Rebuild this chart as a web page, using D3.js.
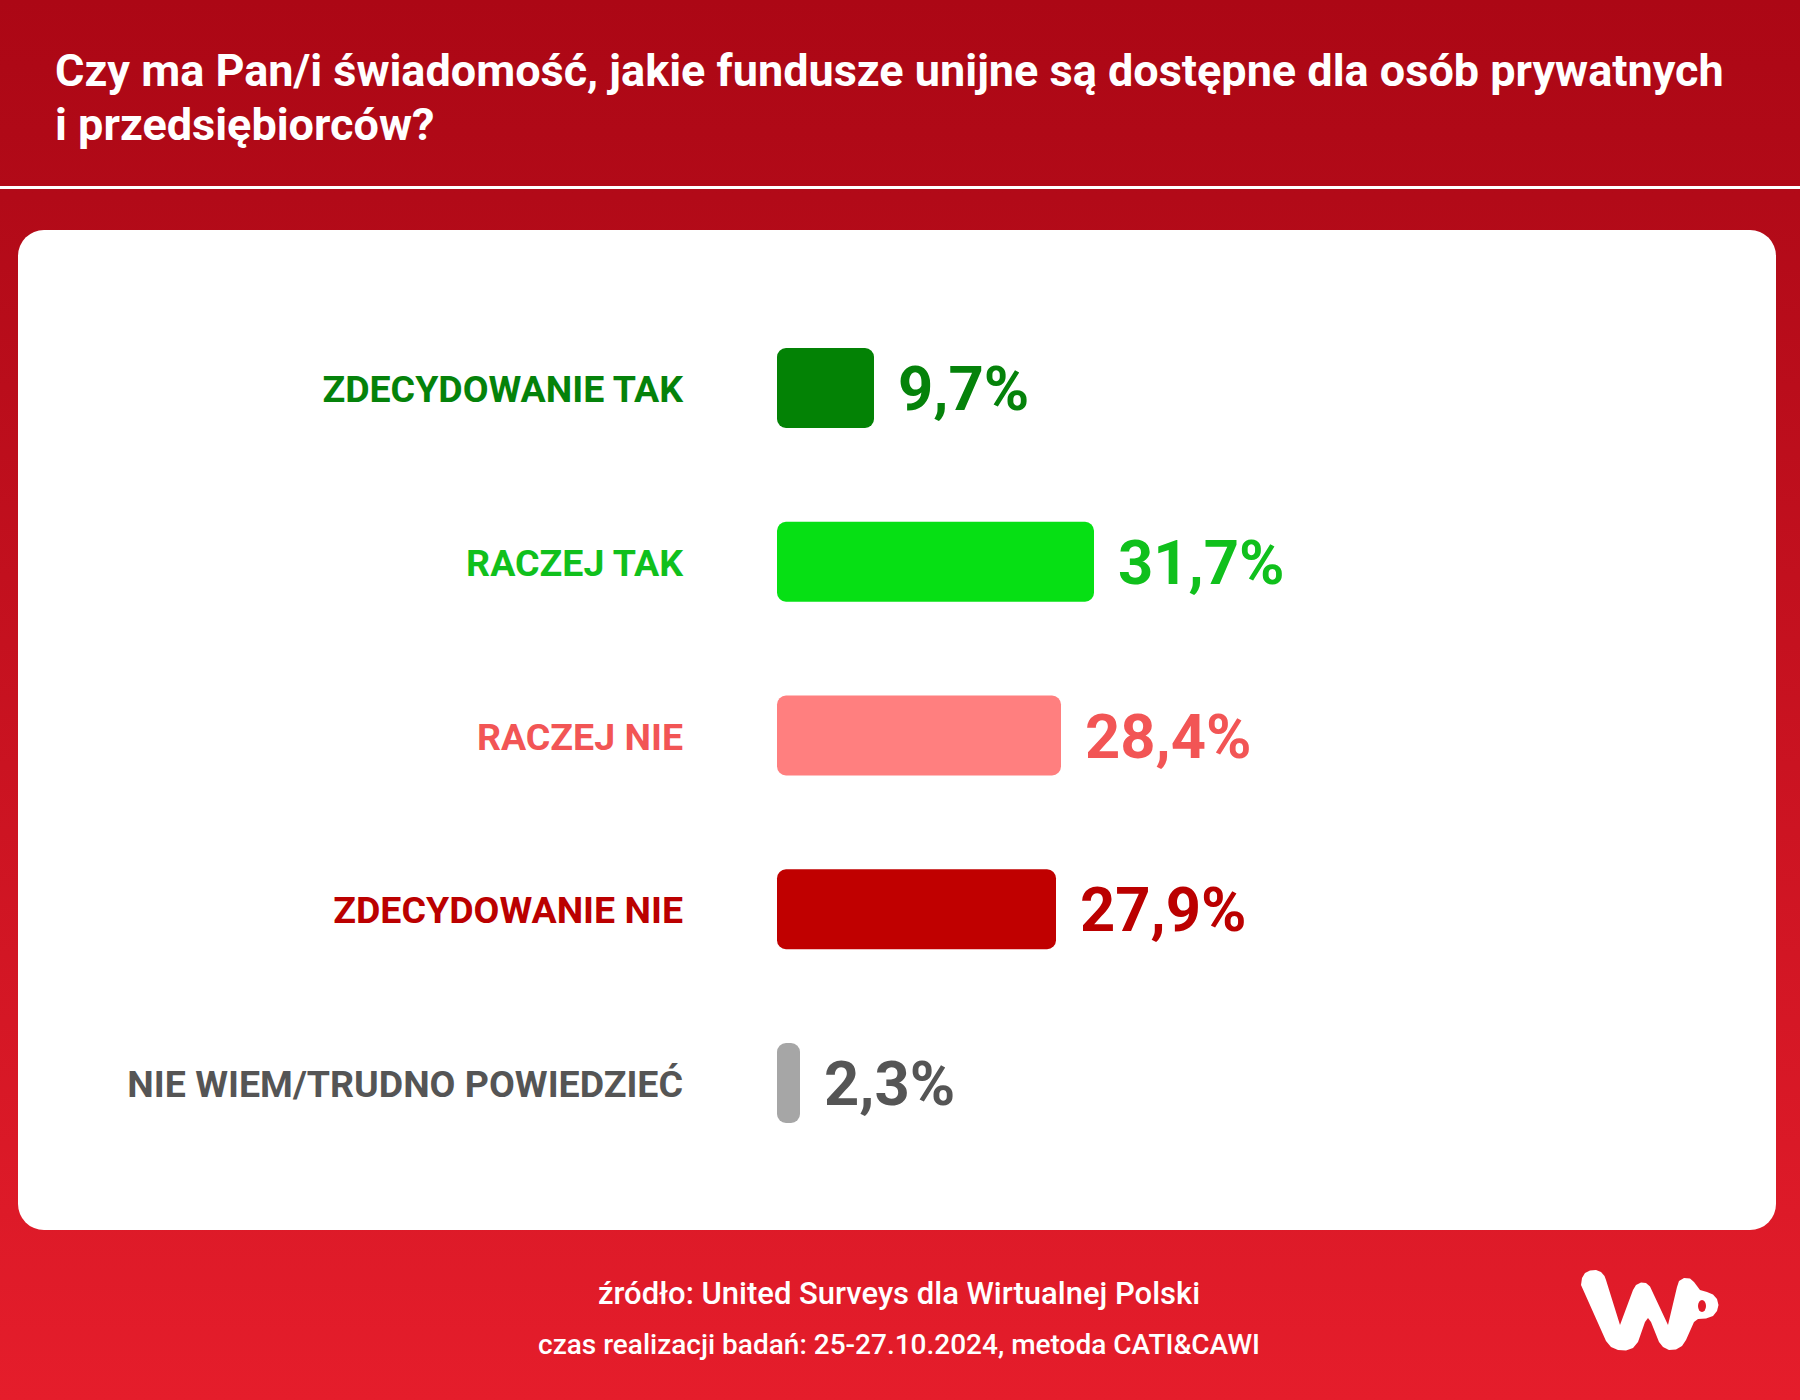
<!DOCTYPE html>
<html>
<head>
<meta charset="utf-8">
<script src="https://cdn.jsdelivr.net/npm/d3@7"></script>
<style>
  html, body { margin: 0; padding: 0; background: #c01020; }
  svg { display: block; font-family: Roboto, "Noto Sans", sans-serif; }
</style>
</head>
<body>
<div id="chart"></div>
<script>
const titleLines = ['Czy ma Pan/i świadomość, jakie fundusze unijne są dostępne dla osób prywatnych', 'i przedsiębiorców?'];

const categories = ['ZDECYDOWANIE TAK', 'RACZEJ TAK', 'RACZEJ NIE', 'ZDECYDOWANIE NIE', 'NIE WIEM/TRUDNO POWIEDZIEĆ'];
const values = [9.7, 31.7, 28.4, 27.9, 2.3];

const footerLines = ['źródło: United Surveys dla Wirtualnej Polski', 'czas realizacji badań: 25-27.10.2024, metoda CATI&CAWI'];

const barColours = ['#038205', '#06e014', '#ff7f7f', '#c00000', '#a6a6a6'];
const textColours = ['#05820a', '#10c01c', '#f25555', '#bb0000', '#555555'];

const width = 1800;
const height = 1400;

// outline of the WP logo (traced by hand)
const logoOutline = [
     [1581, 1285], [1582, 1278], [1585, 1273], [1590, 1270.5], [1596, 1270], [1601, 1272], [1604.5, 1276],
     [1606, 1280], [1620, 1325],
     [1633, 1290], [1636, 1285], [1641, 1282.5], [1646, 1283], [1650, 1286.5],
     [1668, 1325],
     [1677, 1287], [1679, 1281], [1684, 1278], [1690, 1278.5], [1694, 1282],
     [1700, 1290], [1707, 1292], [1713, 1294.5], [1717, 1299], [1718.5, 1305], [1717, 1311],
     [1713, 1316], [1706, 1318.5], [1698, 1319],
     [1694, 1322], [1686, 1340], [1682, 1346], [1676, 1349.5], [1669, 1350], [1663, 1347], [1659, 1342],
     [1651, 1322], [1648, 1318], [1645, 1322],
     [1638, 1342], [1633, 1348], [1626, 1350.5], [1618, 1350], [1611, 1347], [1606, 1341]
];

window.onload = function() {
     drawChart();
};

function drawChart(){
     const pl = d3.formatLocale({decimal: ',', thousands: ' ', grouping: [3], currency: ['', ' zł']});
     const fmt = pl.format('.1f');

     let svg = d3.select('#chart')
                    .append('svg')
                         .attr('width', width)
                         .attr('height', height);

     // background gradient
     let defs = svg.append('defs');
     let grad = defs.append('linearGradient')
          .attr('id', 'bg')
          .attr('gradientUnits', 'userSpaceOnUse')
          .attr('x1', 0).attr('y1', 0).attr('x2', 0).attr('y2', height);
     grad.append('stop').attr('offset', '0').attr('stop-color', '#ac0715');
     grad.append('stop').attr('offset', '0.14').attr('stop-color', '#b20a18');
     grad.append('stop').attr('offset', '1').attr('stop-color', '#e51d2b');

     svg.append('rect')
          .attr('width', width)
          .attr('height', height)
          .attr('fill', 'url(#bg)');

     // title
     svg.append('g').selectAll('text')
          .data(titleLines)
          .enter()
               .append('text')
                    .attr('x', 55)
                    .attr('y', (d, i) => 86 + i * 54)
                    .attr('fill', '#fff')
                    .attr('font-size', 45)
                    .attr('font-weight', 700)
                    .text(d => d);

     // white line under header
     svg.append('rect')
          .attr('x', 0).attr('y', 186)
          .attr('width', width).attr('height', 3)
          .attr('fill', '#fff');

     // white card
     svg.append('rect')
          .attr('x', 18).attr('y', 230)
          .attr('width', 1758).attr('height', 1000)
          .attr('rx', 26)
          .attr('fill', '#fff');

     const xScale = d3.scaleLinear()
                         .domain([0, 100])
                         .range([777, 1777]);

     // 5 bands, 80px bars, centres ~174px apart
     const yScale = d3.scaleBand()
                         .domain(categories)
                         .range([348, 1123])
                         .paddingInner(0.54)
                         .paddingOuter(0);

     const bw = yScale.bandwidth();

     let g = svg.append('g');

     // bars
     g.selectAll('rect')
          .data(categories)
          .enter()
               .append('rect')
                    .attr('x', xScale(0))
                    .attr('y', d => yScale(d))
                    .attr('width', (d, i) => xScale(values[i]) - xScale(0))
                    .attr('height', bw)
                    .attr('rx', (d, i) => Math.min(9, (xScale(values[i]) - xScale(0)) / 2))
                    .attr('fill', (d, i) => barColours[i]);

     // category labels
     g.selectAll('text.cat')
          .data(categories)
          .enter()
               .append('text')
                    .attr('class', 'cat')
                    .attr('x', 683)
                    .attr('y', d => yScale(d) + bw / 2 + 14)
                    .attr('text-anchor', 'end')
                    .attr('font-size', 37.5)
                    .attr('font-weight', 700)
                    .attr('fill', (d, i) => textColours[i])
                    .text(d => d);

     // value labels
     g.selectAll('text.val')
          .data(categories)
          .enter()
               .append('text')
                    .attr('class', 'val')
                    .attr('x', (d, i) => xScale(values[i]) + 24)
                    .attr('y', d => yScale(d) + bw / 2 + 22)
                    .attr('font-size', 61.5)
                    .attr('font-weight', 700)
                    .attr('fill', (d, i) => textColours[i])
                    .text((d, i) => fmt(values[i]) + '%');

     // footer
     svg.append('g').selectAll('text')
          .data(footerLines)
          .enter()
               .append('text')
                    .attr('x', 899)
                    .attr('y', (d, i) => 1304 + i * 50)
                    .attr('text-anchor', 'middle')
                    .attr('fill', '#fff')
                    .attr('font-size', (d, i) => i == 0 ? 31 : 28)
                    .attr('font-weight', 500)
                    .text(d => d);

     // WP logo
     svg.append('path')
          .attr('d', d3.line().curve(d3.curveLinearClosed)(logoOutline))
          .attr('fill', '#fff');

     // counter of the P
     svg.append('ellipse')
          .attr('cx', 1702).attr('cy', 1306)
          .attr('rx', 4).attr('ry', 6)
          .attr('fill', 'url(#bg)');
}
</script>
</body>
</html>
